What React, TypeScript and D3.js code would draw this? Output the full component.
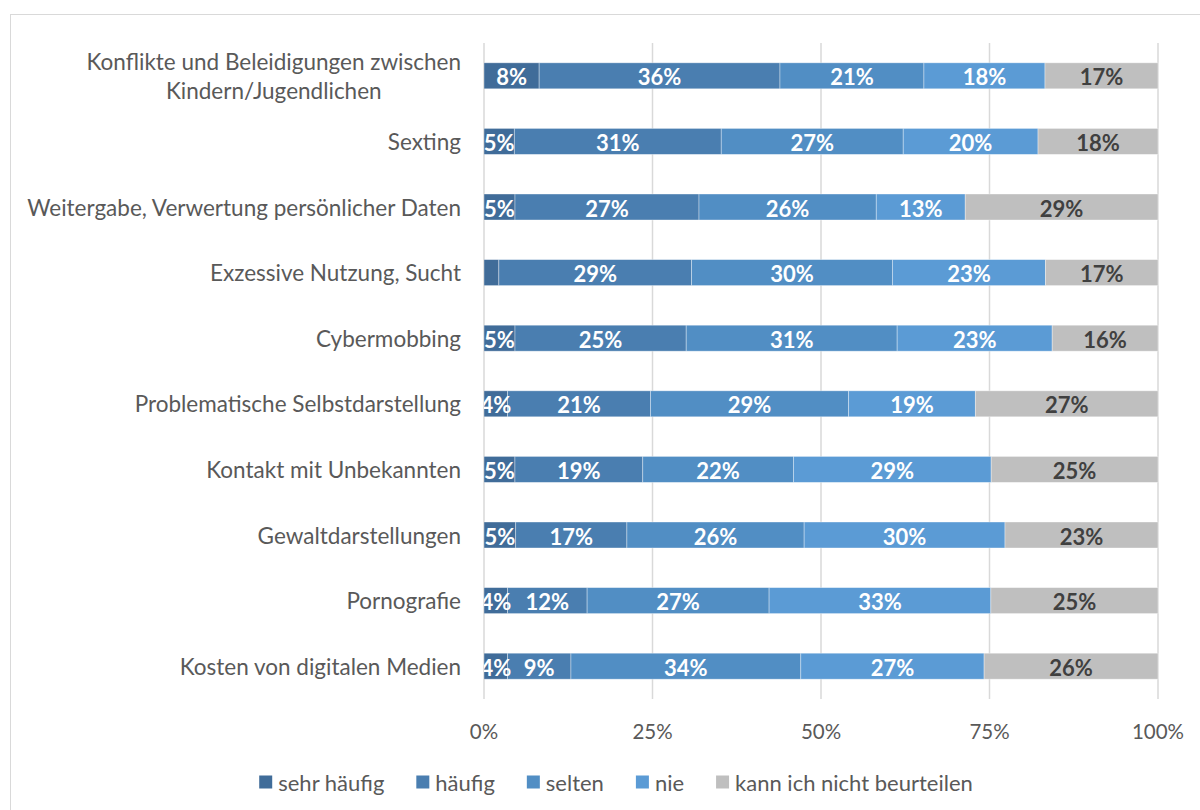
import React, { useEffect, useRef } from "react";
import * as d3 from "d3";

const categories = [
  ["Konflikte und Beleidigungen zwischen", "Kindern/Jugendlichen"],
  ["Sexting"],
  ["Weitergabe, Verwertung persönlicher Daten"],
  ["Exzessive Nutzung, Sucht"],
  ["Cybermobbing"],
  ["Problematische Selbstdarstellung"],
  ["Kontakt mit Unbekannten"],
  ["Gewaltdarstellungen"],
  ["Pornografie"],
  ["Kosten von digitalen Medien"],
];

const seriesNames = ["sehr häufig", "häufig", "selten", "nie", "kann ich nicht beurteilen"];

const sehrHaeufig = [8.2, 4.5, 4.6, 2.2, 4.6, 3.5, 4.6, 4.7, 3.5, 3.5];
const haeufig = [35.8, 30.7, 27.3, 28.6, 25.4, 21.2, 19.0, 16.5, 11.8, 9.4];
const selten = [21.4, 27.0, 26.3, 29.8, 31.3, 29.4, 22.4, 26.3, 27.0, 34.1];
const nie = [18.0, 20.0, 13.2, 22.7, 23.0, 18.8, 29.4, 29.8, 32.9, 27.2];
const keineAngabe = [16.8, 17.8, 28.6, 16.7, 15.7, 27.1, 24.8, 22.7, 24.8, 25.8];

const tickValues = [0, 0.25, 0.5, 0.75, 1];

const colors = ["#406c99", "#4a7eb0", "#518ec4", "#5b9bd5", "#bfbfbf"];
const labelColors = ["#ffffff", "#ffffff", "#ffffff", "#ffffff", "#404040"];

const FONT = "Lato, Carlito, 'Liberation Sans', sans-serif";

export default function App() {
  const ref = useRef<SVGSVGElement | null>(null);

  useEffect(() => {
    const svg = d3.select(ref.current);
    svg.selectAll("*").remove();

    const H = 810;
    const left = 484, right = 1158, top = 43, bottom = 699;
    const catSize = 22.5;

    svg.append("rect")
      .attr("x", 10.5).attr("y", 14.5).attr("width", 1230).attr("height", 830)
      .attr("fill", "#ffffff").attr("stroke", "#d9d9d9").attr("stroke-width", 1);

    const series = [sehrHaeufig, haeufig, selten, nie, keineAngabe];
    const rows = categories.map((c, i) => {
      const vals = series.map((s) => s[i]);
      const total = d3.sum(vals);
      return { key: i, vals: vals.map((v) => v / total), raw: vals };
    });

    const x = d3.scaleLinear().domain([0, 1]).range([left, right]);
    const y = d3.scaleBand<number>().domain(d3.range(categories.length)).range([top, bottom]).paddingInner(0.604).paddingOuter(0.302);

    svg.append("g").selectAll("line").data(tickValues).join("line")
      .attr("x1", (d) => x(d)).attr("x2", (d) => x(d))
      .attr("y1", top).attr("y2", bottom)
      .attr("stroke", "#d9d9d9").attr("stroke-width", 1.5);

    svg.append("g").selectAll("text").data(tickValues).join("text")
      .attr("x", (d) => x(d)).attr("y", 731)
      .attr("text-anchor", "middle").attr("dominant-baseline", "central")
      .attr("font-family", FONT).attr("font-size", 20.5).attr("fill", "#595959")
      .text((d) => d3.format(".0%")(d));

    const defs = svg.append("defs");
    defs.append("clipPath").attr("id", "plotClip").append("rect")
      .attr("x", left).attr("y", 0).attr("width", right - left + 40).attr("height", H);

    const barsG = svg.append("g").attr("clip-path", "url(#plotClip)");

    rows.forEach((r, i) => {
      let cum = 0;
      r.vals.forEach((v, k) => {
        const x0 = x(cum), x1 = x(cum + v);
        cum += v;
        barsG.append("rect")
          .attr("x", x0).attr("y", y(i)!).attr("width", x1 - x0).attr("height", y.bandwidth())
          .attr("fill", colors[k])
          .attr("stroke", "#ffffff").attr("stroke-opacity", 0.45).attr("stroke-width", 0.8);
      });
    });
    rows.forEach((r, i) => {
      let cum = 0;
      r.vals.forEach((v, k) => {
        const cx = x(cum + v / 2);
        cum += v;
        if (r.raw[k] < 3) return;
        barsG.append("text")
          .attr("x", cx).attr("y", y(i)! + y.bandwidth() / 2 + 1)
          .attr("text-anchor", "middle").attr("dominant-baseline", "central")
          .attr("font-family", FONT).attr("font-weight", 700).attr("font-size", 22)
          .attr("fill", labelColors[k])
          .text(Math.round(r.raw[k]) + "%");
      });
    });

    const catG = svg.append("g");
    categories.forEach((lines, i) => {
      const cy = y(i)! + y.bandwidth() / 2;
      const lh = 29;
      if (lines.length === 1) {
        catG.append("text")
          .attr("x", 461).attr("y", cy).attr("text-anchor", "end").attr("dominant-baseline", "central")
          .attr("font-family", FONT).attr("font-size", catSize).attr("fill", "#595959")
          .text(lines[0]);
      } else {
        const t0 = catG.append("text")
          .attr("x", 461).attr("y", cy - lh / 2).attr("text-anchor", "end").attr("dominant-baseline", "central")
          .attr("font-family", FONT).attr("font-size", catSize).attr("fill", "#595959")
          .text(lines[0]);
        const w0 = (t0.node() as SVGTextElement).getComputedTextLength();
        catG.append("text")
          .attr("x", 461 - w0 / 2).attr("y", cy + lh / 2).attr("text-anchor", "middle").attr("dominant-baseline", "central")
          .attr("font-family", FONT).attr("font-size", catSize).attr("fill", "#595959")
          .text(lines[1]);
      }
    });

    const legG = svg.append("g");
    const items = seriesNames.map((name, k) => {
      const g = legG.append("g");
      g.append("rect").attr("x", 0).attr("y", -6.5).attr("width", 13).attr("height", 13).attr("fill", colors[k]);
      const t = g.append("text").attr("x", 19).attr("y", 0).attr("dominant-baseline", "central")
        .attr("font-family", FONT).attr("font-size", 22).attr("fill", "#595959").text(name);
      const w = 19 + (t.node() as SVGTextElement).getComputedTextLength();
      return { g, w };
    });
    const gap = 32;
    const totalW = d3.sum(items, (d) => d.w) + gap * (items.length - 1);
    let lx = 616 - totalW / 2;
    items.forEach((it) => {
      it.g.attr("transform", `translate(${lx},782)`);
      lx += it.w + gap;
    });
  }, []);

  return (
    <svg ref={ref} width={1200} height={810}
      style={{ position: "absolute", left: 0, top: 0, background: "#ffffff" }} />
  );
}
